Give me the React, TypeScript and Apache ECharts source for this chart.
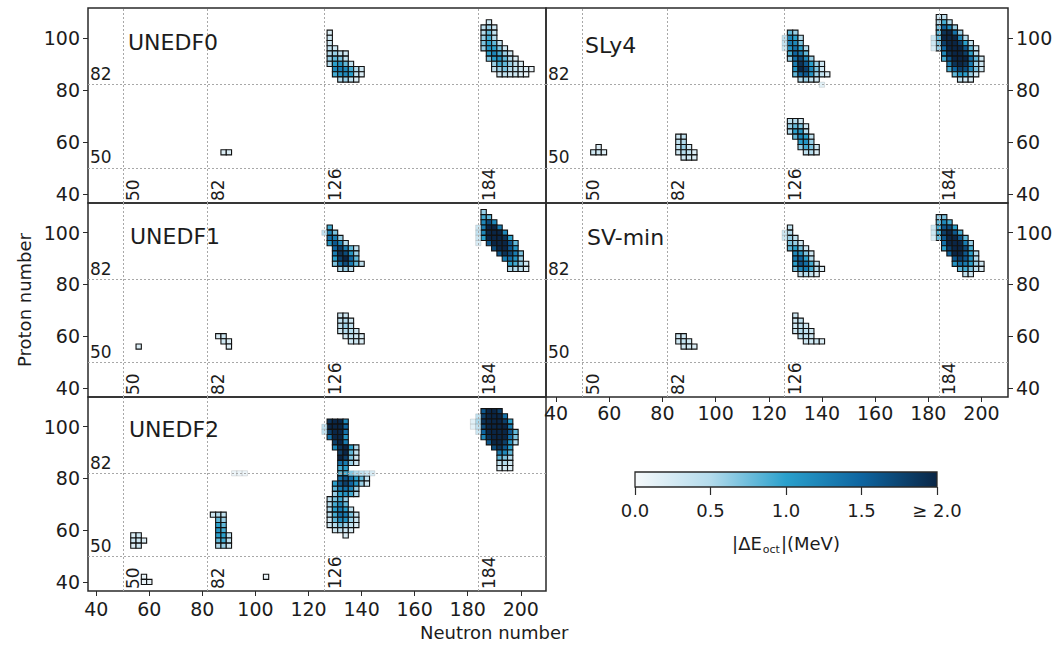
import React, { useEffect, useRef } from 'react';
import * as echarts from 'echarts';

// Row: [Z, first N, |dE_oct| values for N, N+2, N+4, ...]
type Row = [number, number, number[]];
// Faint (un-outlined) cells: [N, Z, value]
type Faint = [number, number, number];

const PANEL_NAMES = ['UNEDF0', 'SLy4', 'UNEDF1', 'SV-min', 'UNEDF2'];
const MAGIC_N = [50, 82, 126, 184];
const MAGIC_Z = [50, 82];
const Z_TICKS = [40, 60, 80, 100];
const N_TICKS = [40, 60, 80, 100, 120, 140, 160, 180, 200];
const CBAR_TICKS = [0, 0.5, 1, 1.5, 2];
const COLOR_STOPS = ['#f6f9fb', '#b3dbec', '#2aa0cc', '#0e65a0', '#0a2646'];

const UNEDF0_ROWS: Row[] = [
  [56, 88, [0.2, 0.2]],
  [102, 128, [0.2]],
  [100, 128, [0.3]],
  [98, 128, [0.3]],
  [96, 128, [0.4, 0.3]],
  [94, 128, [0.5, 0.6, 0.4, 0.3]],
  [92, 128, [0.6, 0.8, 0.7, 0.4]],
  [90, 128, [0.5, 1.0, 1.1, 0.8, 0.4]],
  [88, 130, [1.2, 1.3, 1.2, 0.9, 0.5, 0.3]],
  [86, 130, [0.9, 1.1, 1.2, 1.0, 0.4, 0.2]],
  [84, 132, [0.5, 0.6, 0.4, 0.2]],
  [106, 188, [0.3]],
  [104, 186, [0.4, 0.6, 0.3]],
  [102, 186, [0.5, 0.8, 0.4]],
  [100, 186, [0.6, 0.9, 0.5]],
  [98, 186, [0.7, 1.0, 0.8, 0.4]],
  [96, 186, [0.6, 1.1, 1.0, 0.7, 0.3]],
  [94, 188, [1.0, 1.2, 0.9, 0.6, 0.3]],
  [92, 188, [0.7, 1.0, 1.1, 0.8, 0.5, 0.2]],
  [90, 190, [0.6, 0.9, 0.8, 0.6, 0.4, 0.2]],
  [88, 190, [0.4, 0.6, 0.7, 0.5, 0.4, 0.3, 0.2, 0.1]],
  [86, 192, [0.3, 0.4, 0.3, 0.3, 0.2, 0.1]],
];
const UNEDF0_FAINT: Faint[] = [];

const SLY4_ROWS: Row[] = [
  [58, 56, [0.2]],
  [56, 54, [0.3, 0.3, 0.2]],
  [62, 86, [0.3, 0.4]],
  [60, 86, [0.4, 0.5]],
  [58, 86, [0.4, 0.6, 0.3]],
  [56, 86, [0.3, 0.5, 0.4, 0.2]],
  [54, 88, [0.3, 0.3, 0.2]],
  [68, 128, [0.4, 0.5, 0.3]],
  [66, 128, [0.6, 0.8, 0.7, 0.3]],
  [64, 128, [0.5, 1.0, 1.1, 0.5]],
  [62, 130, [0.8, 1.2, 1.0, 0.4]],
  [60, 132, [1.0, 1.1, 0.6]],
  [58, 132, [0.6, 0.9, 0.7, 0.3]],
  [56, 134, [0.4, 0.5, 0.2]],
  [102, 128, [0.8, 0.6]],
  [100, 128, [1.2, 1.0, 0.5]],
  [98, 128, [1.3, 1.2, 0.7]],
  [96, 128, [1.1, 1.4, 1.0, 0.5]],
  [94, 128, [0.9, 1.5, 1.3, 0.8]],
  [92, 128, [0.6, 1.4, 1.7, 1.2, 0.6]],
  [90, 130, [1.3, 1.9, 1.6, 1.0, 0.6, 0.3]],
  [88, 130, [1.1, 2.0, 1.8, 1.2, 0.7, 0.3]],
  [86, 130, [0.8, 1.5, 1.6, 1.1, 0.6, 0.4, 0.2]],
  [84, 132, [0.5, 0.6, 0.4, 0.3]],
  [108, 184, [0.3, 0.4]],
  [106, 184, [0.5, 0.9, 0.5]],
  [104, 184, [0.7, 1.5, 1.2, 0.6]],
  [102, 184, [0.8, 1.9, 2.0, 1.4, 0.6]],
  [100, 184, [0.8, 2.0, 2.2, 2.0, 1.2, 0.5]],
  [98, 184, [0.7, 1.8, 2.2, 2.2, 1.8, 1.0, 0.4]],
  [96, 184, [0.6, 1.5, 2.1, 2.2, 2.1, 1.6, 0.8, 0.3]],
  [94, 186, [1.2, 1.9, 2.2, 2.2, 1.8, 1.0, 0.5]],
  [92, 186, [0.9, 1.6, 2.1, 2.2, 2.0, 1.4, 0.8, 0.3]],
  [90, 188, [1.3, 1.9, 2.1, 1.9, 1.3, 0.6, 0.3]],
  [88, 188, [0.9, 1.5, 1.8, 1.7, 1.2, 0.7, 0.3]],
  [86, 190, [0.8, 1.1, 1.0, 0.6, 0.3]],
  [84, 192, [0.4, 0.3, 0.2]],
];
const SLY4_FAINT: Faint[] = [
  [126, 100, 0.5], [126, 98, 0.5], [126, 96, 0.4], [140, 82, 0.2],
  [182, 100, 0.4], [182, 98, 0.4], [182, 96, 0.3],
];

const UNEDF1_ROWS: Row[] = [
  [56, 56, [0.2]],
  [60, 86, [0.2, 0.3]],
  [58, 88, [0.3, 0.2]],
  [56, 90, [0.2]],
  [68, 132, [0.3, 0.3]],
  [66, 132, [0.4, 0.5, 0.3]],
  [64, 132, [0.4, 0.6, 0.4]],
  [62, 132, [0.3, 0.5, 0.5, 0.3]],
  [60, 134, [0.3, 0.4, 0.3, 0.2]],
  [58, 136, [0.3, 0.3, 0.2]],
  [102, 128, [0.9]],
  [100, 128, [1.2, 0.7]],
  [98, 128, [1.4, 1.3, 0.6]],
  [96, 128, [1.1, 1.6, 1.2, 0.5]],
  [94, 130, [1.5, 1.8, 1.3, 0.8, 0.4]],
  [92, 130, [1.3, 1.9, 1.7, 1.1, 0.6]],
  [90, 130, [1.0, 1.8, 2.0, 1.5, 0.8]],
  [88, 130, [0.7, 1.4, 1.7, 1.3, 0.8, 0.4]],
  [86, 132, [0.5, 0.6, 0.4]],
  [108, 186, [0.6]],
  [106, 186, [0.9, 0.8]],
  [104, 186, [1.2, 1.7, 1.2]],
  [102, 186, [1.3, 2.1, 2.0, 1.3]],
  [100, 186, [1.2, 2.2, 2.2, 2.0, 1.2]],
  [98, 186, [1.0, 2.0, 2.2, 2.2, 1.9, 1.0]],
  [96, 188, [1.6, 2.1, 2.2, 2.1, 1.6, 0.8]],
  [94, 190, [1.7, 2.1, 2.0, 1.6, 1.1]],
  [92, 192, [1.6, 1.9, 1.7, 1.3, 0.7]],
  [90, 194, [1.3, 1.4, 1.1, 0.6]],
  [88, 196, [1.0, 0.9, 0.6, 0.3]],
  [86, 196, [0.5, 0.5, 0.4, 0.2]],
];
const UNEDF1_FAINT: Faint[] = [
  [126, 100, 0.5],
  [184, 102, 0.4], [184, 100, 0.5], [184, 98, 0.4], [184, 96, 0.3],
];

const SVMIN_ROWS: Row[] = [
  [60, 86, [0.3, 0.3]],
  [58, 86, [0.3, 0.4, 0.3]],
  [56, 88, [0.3, 0.3, 0.2]],
  [68, 130, [0.3]],
  [66, 130, [0.3, 0.4]],
  [64, 130, [0.3, 0.4, 0.3]],
  [62, 130, [0.3, 0.5, 0.4, 0.3]],
  [60, 132, [0.4, 0.4, 0.3]],
  [58, 134, [0.3, 0.3, 0.3, 0.2]],
  [102, 128, [0.4]],
  [100, 128, [0.5]],
  [98, 128, [0.6, 0.4]],
  [96, 128, [0.7, 0.6, 0.3]],
  [94, 128, [0.8, 1.0, 0.7, 0.3]],
  [92, 130, [1.2, 1.1, 0.7, 0.3]],
  [90, 130, [1.3, 1.5, 1.0, 0.5]],
  [88, 130, [1.0, 1.6, 1.4, 0.9, 0.4]],
  [86, 130, [0.7, 1.2, 1.3, 0.9, 0.5, 0.2]],
  [84, 132, [0.4, 0.5, 0.4, 0.2]],
  [106, 184, [0.6, 0.7]],
  [104, 184, [0.8, 1.2, 0.9]],
  [102, 184, [0.9, 1.6, 1.7, 1.0]],
  [100, 184, [0.9, 1.8, 2.0, 1.6, 0.9]],
  [98, 184, [0.8, 1.6, 2.1, 2.1, 1.6, 0.8]],
  [96, 186, [1.4, 2.0, 2.2, 2.0, 1.3, 0.6]],
  [94, 186, [1.0, 1.8, 2.1, 2.1, 1.7, 0.9]],
  [92, 188, [1.5, 2.0, 2.0, 1.6, 1.0, 0.5]],
  [90, 190, [1.6, 1.8, 1.6, 1.1, 0.5]],
  [88, 190, [1.1, 1.4, 1.3, 1.0, 0.6, 0.3]],
  [86, 192, [0.8, 0.9, 0.7, 0.4, 0.2]],
  [84, 194, [0.4, 0.3]],
];
const SVMIN_FAINT: Faint[] = [
  [126, 100, 0.4], [126, 98, 0.4],
  [182, 102, 0.4], [182, 100, 0.4], [182, 98, 0.3],
];

const UNEDF2_ROWS: Row[] = [
  [58, 54, [0.2, 0.3]],
  [56, 54, [0.3, 0.3, 0.2]],
  [54, 54, [0.2, 0.3]],
  [42, 58, [0.1]],
  [40, 58, [0.1, 0.1]],
  [42, 104, [0.1]],
  [66, 84, [0.3, 0.5, 0.4]],
  [64, 86, [0.8, 0.6]],
  [62, 86, [1.0, 0.8]],
  [60, 86, [1.1, 0.9]],
  [58, 86, [1.0, 1.0, 0.4]],
  [56, 86, [0.8, 0.9, 0.4]],
  [54, 86, [0.5, 0.6, 0.3]],
  [102, 128, [1.9, 2.1, 2.0, 1.2]],
  [100, 128, [2.0, 2.2, 2.1, 1.5]],
  [98, 128, [1.8, 2.2, 2.2, 1.4]],
  [96, 128, [1.4, 2.0, 2.1, 1.1]],
  [94, 130, [1.8, 2.0, 1.3]],
  [92, 130, [1.2, 1.9, 2.0, 1.0, 0.5]],
  [90, 132, [1.8, 2.1, 0.8, 0.4]],
  [88, 132, [2.0, 1.8, 0.7, 0.3]],
  [86, 132, [1.4, 1.3, 0.6, 0.3]],
  [84, 132, [0.9, 1.0]],
  [82, 132, [0.8, 0.9]],
  [80, 132, [1.4, 1.6, 1.4, 1.0, 0.8, 0.4]],
  [78, 130, [1.0, 1.6, 1.8, 1.5, 1.1, 0.6, 0.3]],
  [76, 130, [0.8, 1.3, 1.4, 1.2, 0.6]],
  [74, 130, [0.6, 1.0, 1.1, 0.9, 0.5]],
  [72, 128, [0.4, 0.7, 0.9, 0.6]],
  [70, 128, [0.5, 0.9, 1.2, 0.8]],
  [68, 128, [0.5, 1.0, 1.3, 1.0, 0.4]],
  [66, 128, [0.4, 0.9, 1.4, 1.3, 0.7, 0.3]],
  [64, 128, [0.3, 0.8, 1.2, 1.1, 0.6, 0.3]],
  [62, 128, [0.3, 0.5, 0.7, 0.6, 0.4, 0.2]],
  [60, 130, [0.3, 0.4, 0.3, 0.2]],
  [58, 134, [0.2]],
  [106, 186, [1.6, 2.0, 2.1, 1.8]],
  [104, 186, [1.8, 2.2, 2.2, 2.1, 1.4]],
  [102, 186, [1.9, 2.2, 2.2, 2.2, 1.8, 1.0]],
  [100, 186, [1.7, 2.2, 2.2, 2.2, 2.0, 1.3]],
  [98, 186, [1.5, 2.1, 2.2, 2.2, 2.1, 1.6, 0.8]],
  [96, 186, [1.2, 1.9, 2.2, 2.2, 2.0, 1.4, 0.7]],
  [94, 188, [1.6, 2.0, 2.1, 1.8, 1.1, 0.5]],
  [92, 190, [1.7, 1.9, 1.6, 1.0]],
  [90, 192, [1.3, 1.2, 0.8]],
  [88, 192, [0.8, 0.7, 0.5]],
  [86, 192, [0.4, 0.5, 0.3]],
  [84, 192, [0.2, 0.3, 0.2]],
];
const UNEDF2_FAINT: Faint[] = [
  [126, 100, 0.5], [126, 98, 0.5],
  [92, 82, 0.1], [94, 82, 0.1], [96, 82, 0.1],
  [136, 82, 0.8], [138, 82, 0.6], [140, 82, 0.5], [142, 82, 0.4], [144, 82, 0.3],
  [182, 102, 0.2], [182, 100, 0.2],
  [184, 104, 0.5], [184, 102, 0.6], [184, 100, 0.5], [184, 98, 0.4],
];

const PANEL_ROWS = [UNEDF0_ROWS, SLY4_ROWS, UNEDF1_ROWS, SVMIN_ROWS, UNEDF2_ROWS];
const PANEL_FAINT = [UNEDF0_FAINT, SLY4_FAINT, UNEDF1_FAINT, SVMIN_FAINT, UNEDF2_FAINT];

const FONT = 'DejaVu Sans';
const TXT = '#1c1c1c';

// layout (pixels): [left, top, width, height, xmin, xmax, right-column?, x labels?]
const GRIDS: [number, number, number, number, number, number, boolean, boolean][] = [
  [88, 8, 458, 195, 36.9, 209.5, false, false],
  [546, 8, 462, 195, 36.2, 210, true, false],
  [88, 203, 458, 194, 36.9, 209.5, false, false],
  [546, 203, 462, 194, 36.2, 210, true, true],
  [88, 397, 458, 194, 36.9, 209.5, false, true],
];
const Z_MIN = 36.5;
const Z_MAX = 111.5;

function buildCells(rows: Row[], faint: Faint[]) {
  const out: number[][] = [];
  rows.forEach(([z, n0, vals]) => vals.forEach((v, i) => out.push([n0 + 2 * i, z, v, 1])));
  faint.forEach(([n, z, v]) => out.push([n, z, v, 0]));
  return out;
}

export default function App() {
  const ref = useRef<HTMLDivElement>(null);
  useEffect(() => {
    if (!ref.current) return;
    const chart = echarts.init(ref.current, undefined, { renderer: 'svg' });

    const grid: any[] = GRIDS.map(([l, t, w, h]) => ({
      left: l, top: t, width: w, height: h, show: true,
      borderColor: '#2a2a2a', borderWidth: 1.5, backgroundColor: 'transparent',
    }));
    grid.push({ left: 635, top: 472, width: 302, height: 15 });

    const xAxis: any[] = GRIDS.map(([, , , , mn, mx, , lab], i) => ({
      type: 'value', gridIndex: i, min: mn, max: mx,
      axisLine: { show: false },
      splitLine: { show: false },
      axisTick: { show: lab, customValues: N_TICKS, length: 5, inside: false, lineStyle: { color: '#2a2a2a' } },
      axisLabel: {
        show: lab, customValues: N_TICKS, margin: i === 3 ? 6 : 8,
        fontFamily: FONT, fontSize: 19, color: TXT,
        formatter: (v: number) => String(Math.round(v)),
      },
    }));
    xAxis.push({
      type: 'value', gridIndex: 5, min: 0, max: 2, interval: 0.5,
      axisLine: { show: false }, splitLine: { show: false },
      axisTick: { show: true, customValues: CBAR_TICKS, length: 8, lineStyle: { color: '#2a2a2a', width: 1.2 } },
      axisLabel: {
        margin: 14, fontFamily: FONT, fontSize: 18, color: TXT,
        formatter: (v: number) => (v >= 2 ? '≥ 2.0' : v.toFixed(1)),
      },
      name: '{n||ΔE}{s|oct}{n||(MeV)}', nameLocation: 'middle', nameGap: 44,
      nameTextStyle: {
        fontFamily: FONT, fontSize: 18, color: TXT,
        rich: {
          n: { fontFamily: FONT, fontSize: 18, color: TXT, lineHeight: 24, verticalAlign: 'middle' },
          s: { fontFamily: FONT, fontSize: 11, color: TXT, lineHeight: 12, verticalAlign: 'bottom', padding: [0, 1, 0, 1] },
        },
      },
    });

    const yAxis: any[] = GRIDS.map(([, , , , , , right], i) => ({
      type: 'value', gridIndex: i, min: Z_MIN, max: Z_MAX,
      position: right ? 'right' : 'left',
      axisLine: { show: false }, splitLine: { show: false },
      axisTick: { show: true, customValues: Z_TICKS, length: 5, lineStyle: { color: '#2a2a2a' } },
      axisLabel: {
        show: true, customValues: Z_TICKS, margin: 8,
        fontFamily: FONT, fontSize: 19, color: TXT,
        formatter: (v: number) => String(Math.round(v)),
      },
      ...(i === 2
        ? { name: 'Proton number', nameLocation: 'middle', nameGap: 55,
            nameTextStyle: { fontFamily: FONT, fontSize: 18, color: TXT } }
        : {}),
    }));
    yAxis.push({ type: 'value', gridIndex: 5, min: 0, max: 1, show: false });

    const magicLines = [
      ...MAGIC_N.map((v) => ({
        xAxis: v,
        label: { show: true, position: 'insideStartBottom', formatter: String(v), distance: 2 },
      })),
      ...MAGIC_Z.map((v) => ({
        yAxis: v,
        label: { show: true, position: 'insideStartTop', formatter: String(v), distance: 2 },
      })),
    ];

    const series: any[] = PANEL_ROWS.map((rows, i) => ({
      type: 'custom',
      xAxisIndex: i, yAxisIndex: i,
      data: buildCells(rows, PANEL_FAINT[i]),
      encode: { x: 0, y: 1 },
      clip: true,
      renderItem: (_p: any, api: any) => {
        const n = api.value(0);
        const z = api.value(1);
        const bordered = api.value(3) === 1;
        const a = api.coord([n - 1, z + 1]);
        const b = api.coord([n + 1, z - 1]);
        return {
          type: 'rect',
          shape: { x: a[0], y: a[1], width: b[0] - a[0], height: b[1] - a[1] },
          style: bordered
            ? { fill: api.visual('color'), stroke: '#111', lineWidth: 1.1 }
            : { fill: api.visual('color'), stroke: 'rgba(90,90,90,0.35)', lineWidth: 0.6, opacity: 0.8 },
        };
      },
      markLine: {
        silent: true, symbol: 'none', animation: false,
        lineStyle: { color: '#a8a8a8', type: [2, 2], width: 1 },
        label: { fontFamily: FONT, fontSize: 17, color: TXT },
        data: magicLines,
      },
      z: 2,
    }));

    series.push({
      type: 'custom',
      xAxisIndex: 5, yAxisIndex: 5,
      data: [[0, 0]],
      renderItem: (_p: any, api: any) => {
        const a = api.coord([0, 1]);
        const b = api.coord([2, 0]);
        const stops = COLOR_STOPS.map((c, k) => ({ offset: k / (COLOR_STOPS.length - 1), color: c }));
        return {
          type: 'rect',
          shape: { x: a[0], y: a[1], width: b[0] - a[0], height: b[1] - a[1] },
          style: { fill: new echarts.graphic.LinearGradient(0, 0, 1, 0, stops), stroke: '#2a2a2a', lineWidth: 1.3 },
        };
      },
    });

    const titlePos: [number, number][] = [[128, 31], [585, 34], [130, 225], [587, 226], [129, 418]];
    const title: any[] = PANEL_NAMES.map((name, i) => ({
      text: name, left: titlePos[i][0], top: titlePos[i][1], padding: 0,
      textStyle: { fontFamily: FONT, fontSize: 22, fontWeight: 'normal', color: TXT },
    }));
    title.push({
      text: 'Neutron number', left: 420, top: 623, padding: 0,
      textStyle: { fontFamily: FONT, fontSize: 18, fontWeight: 'normal', color: TXT },
    });

    chart.setOption({
      animation: false,
      backgroundColor: '#ffffff',
      title,
      grid,
      xAxis,
      yAxis,
      visualMap: {
        type: 'continuous', show: false, min: 0, max: 2, dimension: 2,
        seriesIndex: [0, 1, 2, 3, 4],
        inRange: { color: COLOR_STOPS },
      },
      series,
    });
    return () => chart.dispose();
  }, []);

  return (
    <div
      ref={ref}
      style={{ position: 'fixed', left: 0, top: 0, width: 1064, height: 646, background: '#fff' }}
    />
  );
}
